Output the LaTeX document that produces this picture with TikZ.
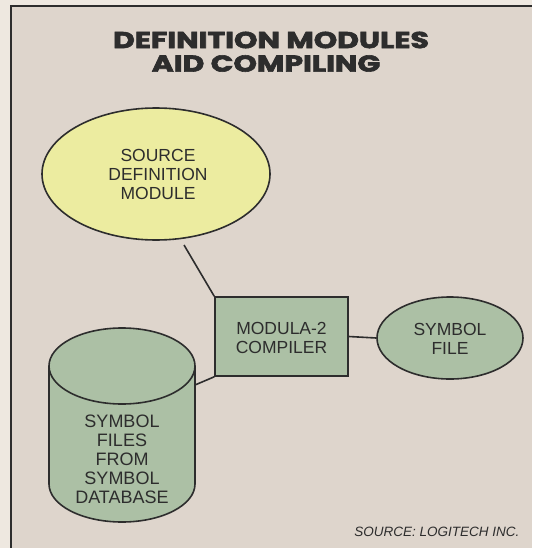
\documentclass[tikz,border=0pt]{standalone}
\usepackage{fontspec}
\setmainfont{Liberation Sans}
\newfontfamily\titlefont{Poppins}[BoldFeatures={FakeBold=2.5}]
\usetikzlibrary{shapes.geometric}
\definecolor{paper}{RGB}{238,232,224}
\definecolor{panel}{RGB}{222,213,204}
\definecolor{yel}{RGB}{236,236,160}
\definecolor{grn}{RGB}{172,192,165}
\definecolor{ink}{RGB}{45,45,45}
\begin{document}
\begin{tikzpicture}[x=1pt,y=-1pt,
  edge/.style={draw=ink,line width=1.6pt},
  lbl/.style={text=ink,font=\fontsize{17.5}{19}\selectfont,align=center},
  ttl/.style={text=ink,inner sep=0,font=\titlefont\bfseries\fontsize{23}{23}\selectfont}]
\useasboundingbox (0,0) rectangle (532,548);
\fill[paper] (0,0) rectangle (532,548);
\fill[panel] (11,6) rectangle (532,548);
\draw[ink,line width=1.6pt] (11,548) -- (11,6) -- (532,6);
\node[ttl] (title1) at (271,40) {\scalebox{1.3}[1.0]{DEFINITION MODULES}};
\node[ttl] (title2) at (266,63.5) {\scalebox{1.3}[1.0]{AID COMPILING}};
% source ellipse
\node[ellipse,draw=ink,line width=1.6pt,fill=yel,minimum width=228,minimum height=132,inner sep=0] (src) at (156,174) {};
\node[lbl] (srct) at (158,174) {SOURCE\\DEFINITION\\MODULE};
% compiler
\node[draw=ink,line width=1.6pt,fill=grn,minimum width=133,minimum height=79,inner sep=0] (comp) at (281.5,336.5) {};
\node[lbl] (compt) at (281.5,338) {MODULA-2\\COMPILER};
% symbol file
\node[ellipse,draw=ink,line width=1.6pt,fill=grn,minimum width=146,minimum height=82,inner sep=0] (sym) at (450,338) {};
\node[lbl] (symt) at (450,339) {SYMBOL\\FILE};
% cylinder
\coordinate (cyl) at (195,385);
\filldraw[fill=grn,draw=ink,line width=1.6pt] (49,366) -- (49,484) arc[start angle=180,end angle=0,x radius=73,y radius=38] -- (195,366) arc[start angle=0,end angle=-180,x radius=73,y radius=38] -- cycle;
\draw[ink,line width=1.6pt] (49,366) arc[start angle=180,end angle=0,x radius=73,y radius=38];
\node[lbl,font=\fontsize{18}{19}\selectfont] (cylt) at (122,459) {SYMBOL\\FILES\\FROM\\SYMBOL\\DATABASE};
% connectors
\coordinate (a1) at (184,245);
\draw[edge] (a1) -- (comp.north west);
\draw[edge] (comp.east) -- (sym.west);
\draw[edge] (comp.south west) -- (cyl);
\node[text=ink,font=\itshape\fontsize{13.5}{15}\selectfont,anchor=east] (credit) at (523,532) {SOURCE: LOGITECH INC.};
\end{tikzpicture}
\end{document}
